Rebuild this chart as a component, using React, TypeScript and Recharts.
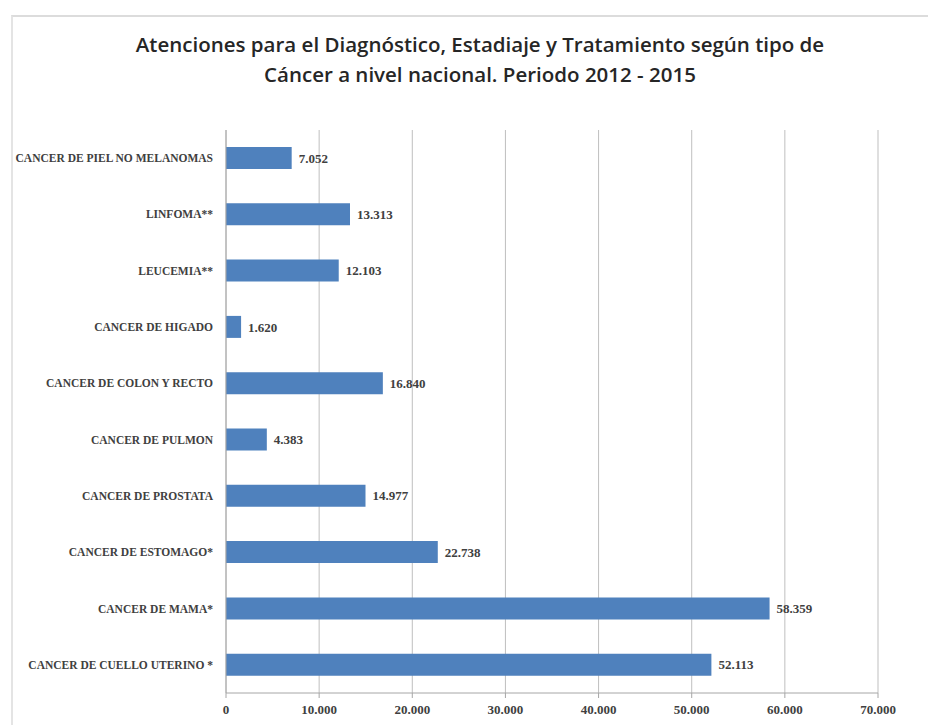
import { BarChart, Bar, XAxis, YAxis, CartesianGrid, LabelList } from 'recharts';

const categories = [
    'CANCER DE PIEL NO MELANOMAS',
    'LINFOMA**',
    'LEUCEMIA**',
    'CANCER DE HIGADO',
    'CANCER DE COLON Y RECTO',
    'CANCER DE PULMON',
    'CANCER DE PROSTATA',
    'CANCER DE ESTOMAGO*',
    'CANCER DE MAMA*',
    'CANCER DE CUELLO UTERINO *',
];

const atenciones = [7052, 13313, 12103, 1620, 16840, 4383, 14977, 22738, 58359, 52113];

const xTicks = [0, 10000, 20000, 30000, 40000, 50000, 60000, 70000];

const data = categories.map((name, i) => ({ name, value: atenciones[i] }));

// thousands with a dot, like the original (7.052)
const fmt = (v: number) => String(v).replace(/\B(?=(\d{3})+(?!\d))/g, '.');

const font = '"Liberation Serif", serif';

// plain text so long names stay on one line
const CategoryTick = (props: any) => {
    const { x, y, payload } = props;
    return (
        <text x={x} y={y} dy={4} textAnchor="end" fill="#404040" fontSize={11.5} fontWeight={700} fontFamily={font}>
            {payload.value}
        </text>
    );
};

export default function App() {
    return (
        <div style={{ position: 'absolute', left: 0, top: 0, width: 928, height: 725, background: '#fff' }}>
            <div style={{
                position: 'absolute', left: 11, top: 15, right: 0, bottom: 0,
                borderTop: '2px solid #dcdcdc', borderLeft: '2px solid #e4e4e4'
            }} />
            <div style={{
                position: 'absolute', left: 16, top: 29, width: 928, textAlign: 'center',
                fontFamily: '"Open Sans", sans-serif', fontWeight: 600, fontSize: 20.5,
                lineHeight: '30px', color: '#262626'
            }}>
                Atenciones para el Diagnóstico, Estadiaje y Tratamiento según tipo de<br />
                Cáncer a nivel nacional. Periodo 2012 - 2015
            </div>
            <BarChart
                width={928}
                height={725}
                data={data}
                layout="vertical"
                margin={{ top: 130, right: 50, bottom: 0, left: 0 }}
                style={{ position: 'absolute', left: 0, top: 0 }}
            >
                <CartesianGrid horizontal={false} stroke="#bfbfbf" />
                <XAxis
                    type="number"
                    domain={[0, 70000]}
                    ticks={xTicks}
                    tickFormatter={fmt}
                    height={32}
                    axisLine={{ stroke: '#a6a6a6' }}
                    tickLine={{ stroke: '#a6a6a6' }}
                    tickSize={5}
                    tickMargin={7}
                    tick={{ fill: '#404040', fontSize: 13, fontWeight: 700, fontFamily: font }}
                />
                <YAxis
                    type="category"
                    dataKey="name"
                    width={226}
                    interval={0}
                    axisLine={{ stroke: '#a6a6a6' }}
                    tickLine={false}
                    tickSize={0}
                    tickMargin={13}
                    tick={<CategoryTick />}
                />
                <Bar dataKey="value" fill="#4f81bd" barSize={22} isAnimationActive={false}>
                    <LabelList
                        dataKey="value"
                        position="right"
                        offset={7}
                        formatter={(v: any) => fmt(Number(v))}
                        style={{ fill: '#404040', fontSize: 13, fontWeight: 700, fontFamily: font }}
                    />
                </Bar>
            </BarChart>
        </div>
    );
}
